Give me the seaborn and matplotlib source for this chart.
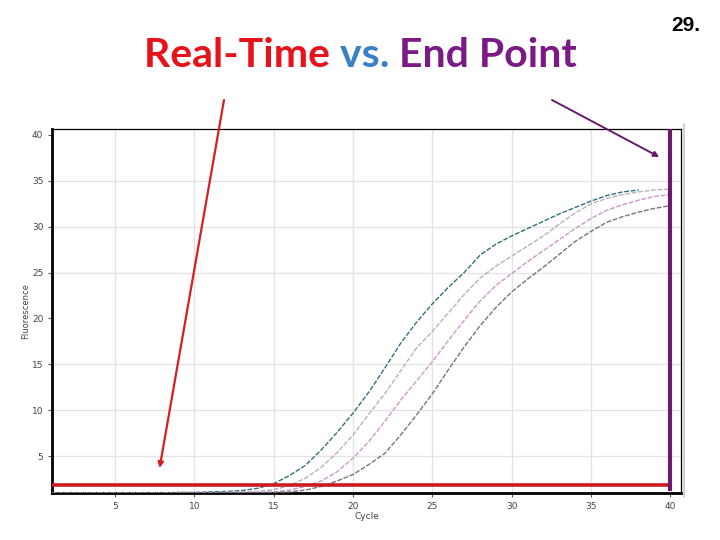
import numpy as np
import pandas as pd
import matplotlib
matplotlib.use("Agg")
import matplotlib.pyplot as plt
from matplotlib.lines import Line2D
import seaborn as sns

# ---------------- data ----------------
cycles = list(range(1, 41))
sample_a = [1.0, 1.0, 1.0, 1.0, 1.0, 1.0, 1.0, 1.0, 1.05, 1.05, 1.1, 1.15, 1.25, 1.5, 2.0,
            2.9, 4.0, 5.7, 7.6, 9.7, 12.0, 14.6, 17.3, 19.6, 21.6, 23.4, 25.0, 26.9, 28.1, 29.0,
            29.8, 30.6, 31.4, 32.1, 32.8, 33.4, 33.8, 34.0, np.nan, np.nan]
sample_b = [1.0, 1.0, 1.0, 1.0, 1.0, 1.0, 1.0, 1.0, 1.0, 1.0, 1.0, 1.05, 1.1, 1.15, 1.35,
            1.8, 2.6, 3.8, 5.4, 7.3, 9.6, 11.8, 14.3, 16.8, 18.6, 20.6, 22.6, 24.4, 25.7, 26.8,
            27.9, 29.0, 30.3, 31.5, 32.5, 33.1, 33.5, 33.8, 34.0, 34.1]
sample_c = [1.0, 1.0, 1.0, 1.0, 1.0, 1.0, 1.0, 1.0, 1.0, 1.0, 1.0, 1.0, 1.0, 1.05, 1.1,
            1.3, 1.7, 2.3, 3.3, 4.8, 6.6, 8.8, 11.1, 13.2, 15.3, 17.6, 19.8, 21.9, 23.6, 24.9,
            26.2, 27.4, 28.6, 29.8, 30.9, 31.8, 32.4, 32.9, 33.3, 33.5]
sample_d = [1.0, 1.0, 1.0, 1.0, 1.0, 1.0, 1.0, 1.0, 1.0, 1.0, 1.0, 1.0, 1.0, 1.0, 1.05,
            1.1, 1.3, 1.7, 2.3, 3.0, 4.1, 5.3, 7.3, 9.5, 11.8, 14.4, 16.9, 19.2, 21.2, 22.9,
            24.3, 25.6, 27.0, 28.4, 29.5, 30.5, 31.1, 31.6, 32.0, 32.3]
sample_names = ["A", "B", "C", "D"]
sample_colors = ["#33707e", "#bcaec4", "#cc98cc", "#747482"]
threshold = 1.85
end_point_cycle = 40
x_ticks = [5, 10, 15, 20, 25, 30, 35, 40]
y_ticks = [5, 10, 15, 20, 25, 30, 35, 40]
grid_y = [5, 10, 15, 25, 30, 35]
grid_x = [5, 10, 15, 20, 25, 30, 35]

frames = []
for name, vals in zip(sample_names, [sample_a, sample_b, sample_c, sample_d]):
    frames.append(pd.DataFrame({"Cycle": cycles, "Fluorescence": vals, "Sample": name}))
df = pd.concat(frames, ignore_index=True).dropna()

# ---------------- figure ----------------
sns.set_theme(style="white")
plt.rcParams['font.family'] = ['DejaVu Sans']

fig = plt.figure(figsize=(7.2, 5.4), dpi=100)
ax = fig.add_axes([0.0718, 0.0865, 0.8747, 0.6746])

for v in grid_y:
    ax.axhline(v, color="#e4e4e4", lw=1.0, zorder=0)
for v in grid_x:
    ax.axvline(v, color="#e4e4e4", lw=1.0, zorder=0)

sns.lineplot(data=df, x="Cycle", y="Fluorescence", hue="Sample",
             palette=dict(zip(sample_names, sample_colors)), legend=False,
             ax=ax, linewidth=1.0, dashes=False, zorder=3)
for line in ax.get_lines()[-4:]:
    line.set_linestyle((0, (3.5, 1.2)))

ax.set_xlim(1, 40.7)
ax.set_ylim(0.95, 40.65)
ax.set_xticks(x_ticks)
ax.set_yticks(y_ticks)
ax.set_xticklabels([str(t) for t in x_ticks])
ax.set_yticklabels([str(t) for t in y_ticks])
ax.tick_params(axis="both", which="major", length=3, width=0.8, color="#555555",
               labelsize=6.5, labelcolor="#444444", direction="out", pad=3,
               bottom=True, left=True)
for side in ["left", "bottom"]:
    ax.spines[side].set_linewidth(2.0)
    ax.spines[side].set_color("black")
for side in ["top", "right"]:
    ax.spines[side].set_linewidth(0.9)
    ax.spines[side].set_color("black")
    ax.spines[side].set_visible(True)

ax.set_xlabel("Cycle", fontsize=6.5, color="#444444", labelpad=1)
ax.set_ylabel("Fluorescence", fontsize=6, color="#444444", labelpad=1.5)

# threshold line and end point line
ax.plot([1, end_point_cycle - 0.05], [threshold, threshold], color="#cc1a1f", lw=2.6,
        solid_capstyle="butt", zorder=5)
ax.plot([end_point_cycle, end_point_cycle], [1.25, 40.7], color="#6b1a70", lw=3.0,
        solid_capstyle="butt", zorder=6, clip_on=False)

# thin gray frame line at right
fig.add_artist(Line2D([684 / 720, 684 / 720], [1 - 124 / 540, 1 - 497 / 540],
                      color="#c8c8c8", lw=1.2))

# arrows
ax.annotate("", xy=(7.8, 3.7), xycoords="data",
            xytext=(224 / 720, 1 - 100 / 540), textcoords="figure fraction",
            arrowprops=dict(arrowstyle="-|>", color="#d42020", lw=1.6,
                            mutation_scale=8, shrinkA=0, shrinkB=0),
            annotation_clip=False)
ax.annotate("", xy=(39.3, 37.6), xycoords="data",
            xytext=(552 / 720, 1 - 100 / 540), textcoords="figure fraction",
            arrowprops=dict(arrowstyle="-|>", color="#6a1a6e", lw=1.4,
                            mutation_scale=8, shrinkA=0, shrinkB=0),
            annotation_clip=False)

# title in three colours
title_parts = [("Real-Time ", "#e8121b"), ("vs. ", "#3a80c8"), ("End Point", "#7b1a86")]
renderer = fig.canvas.get_renderer()
title_font = dict(fontsize=29.5, fontweight="bold", family=["Lato", "DejaVu Sans"])
texts = []
widths = []
for s, c in title_parts:
    t = fig.text(0, 0, s, color=c, va="baseline", ha="left", **title_font)
    texts.append(t)
    widths.append(t.get_window_extent(renderer).width)
total = sum(widths)
x0 = 360.5 - total / 2
for t, w in zip(texts, widths):
    t.set_position((x0 / 720, 1 - 67 / 540))
    x0 += w

fig.text(686 / 720, 1 - 31 / 540, "29.", fontsize=15, fontweight="bold", color="black",
         ha="center", va="baseline", family=["Liberation Sans", "DejaVu Sans"])

fig.savefig("out.png", dpi=100)
